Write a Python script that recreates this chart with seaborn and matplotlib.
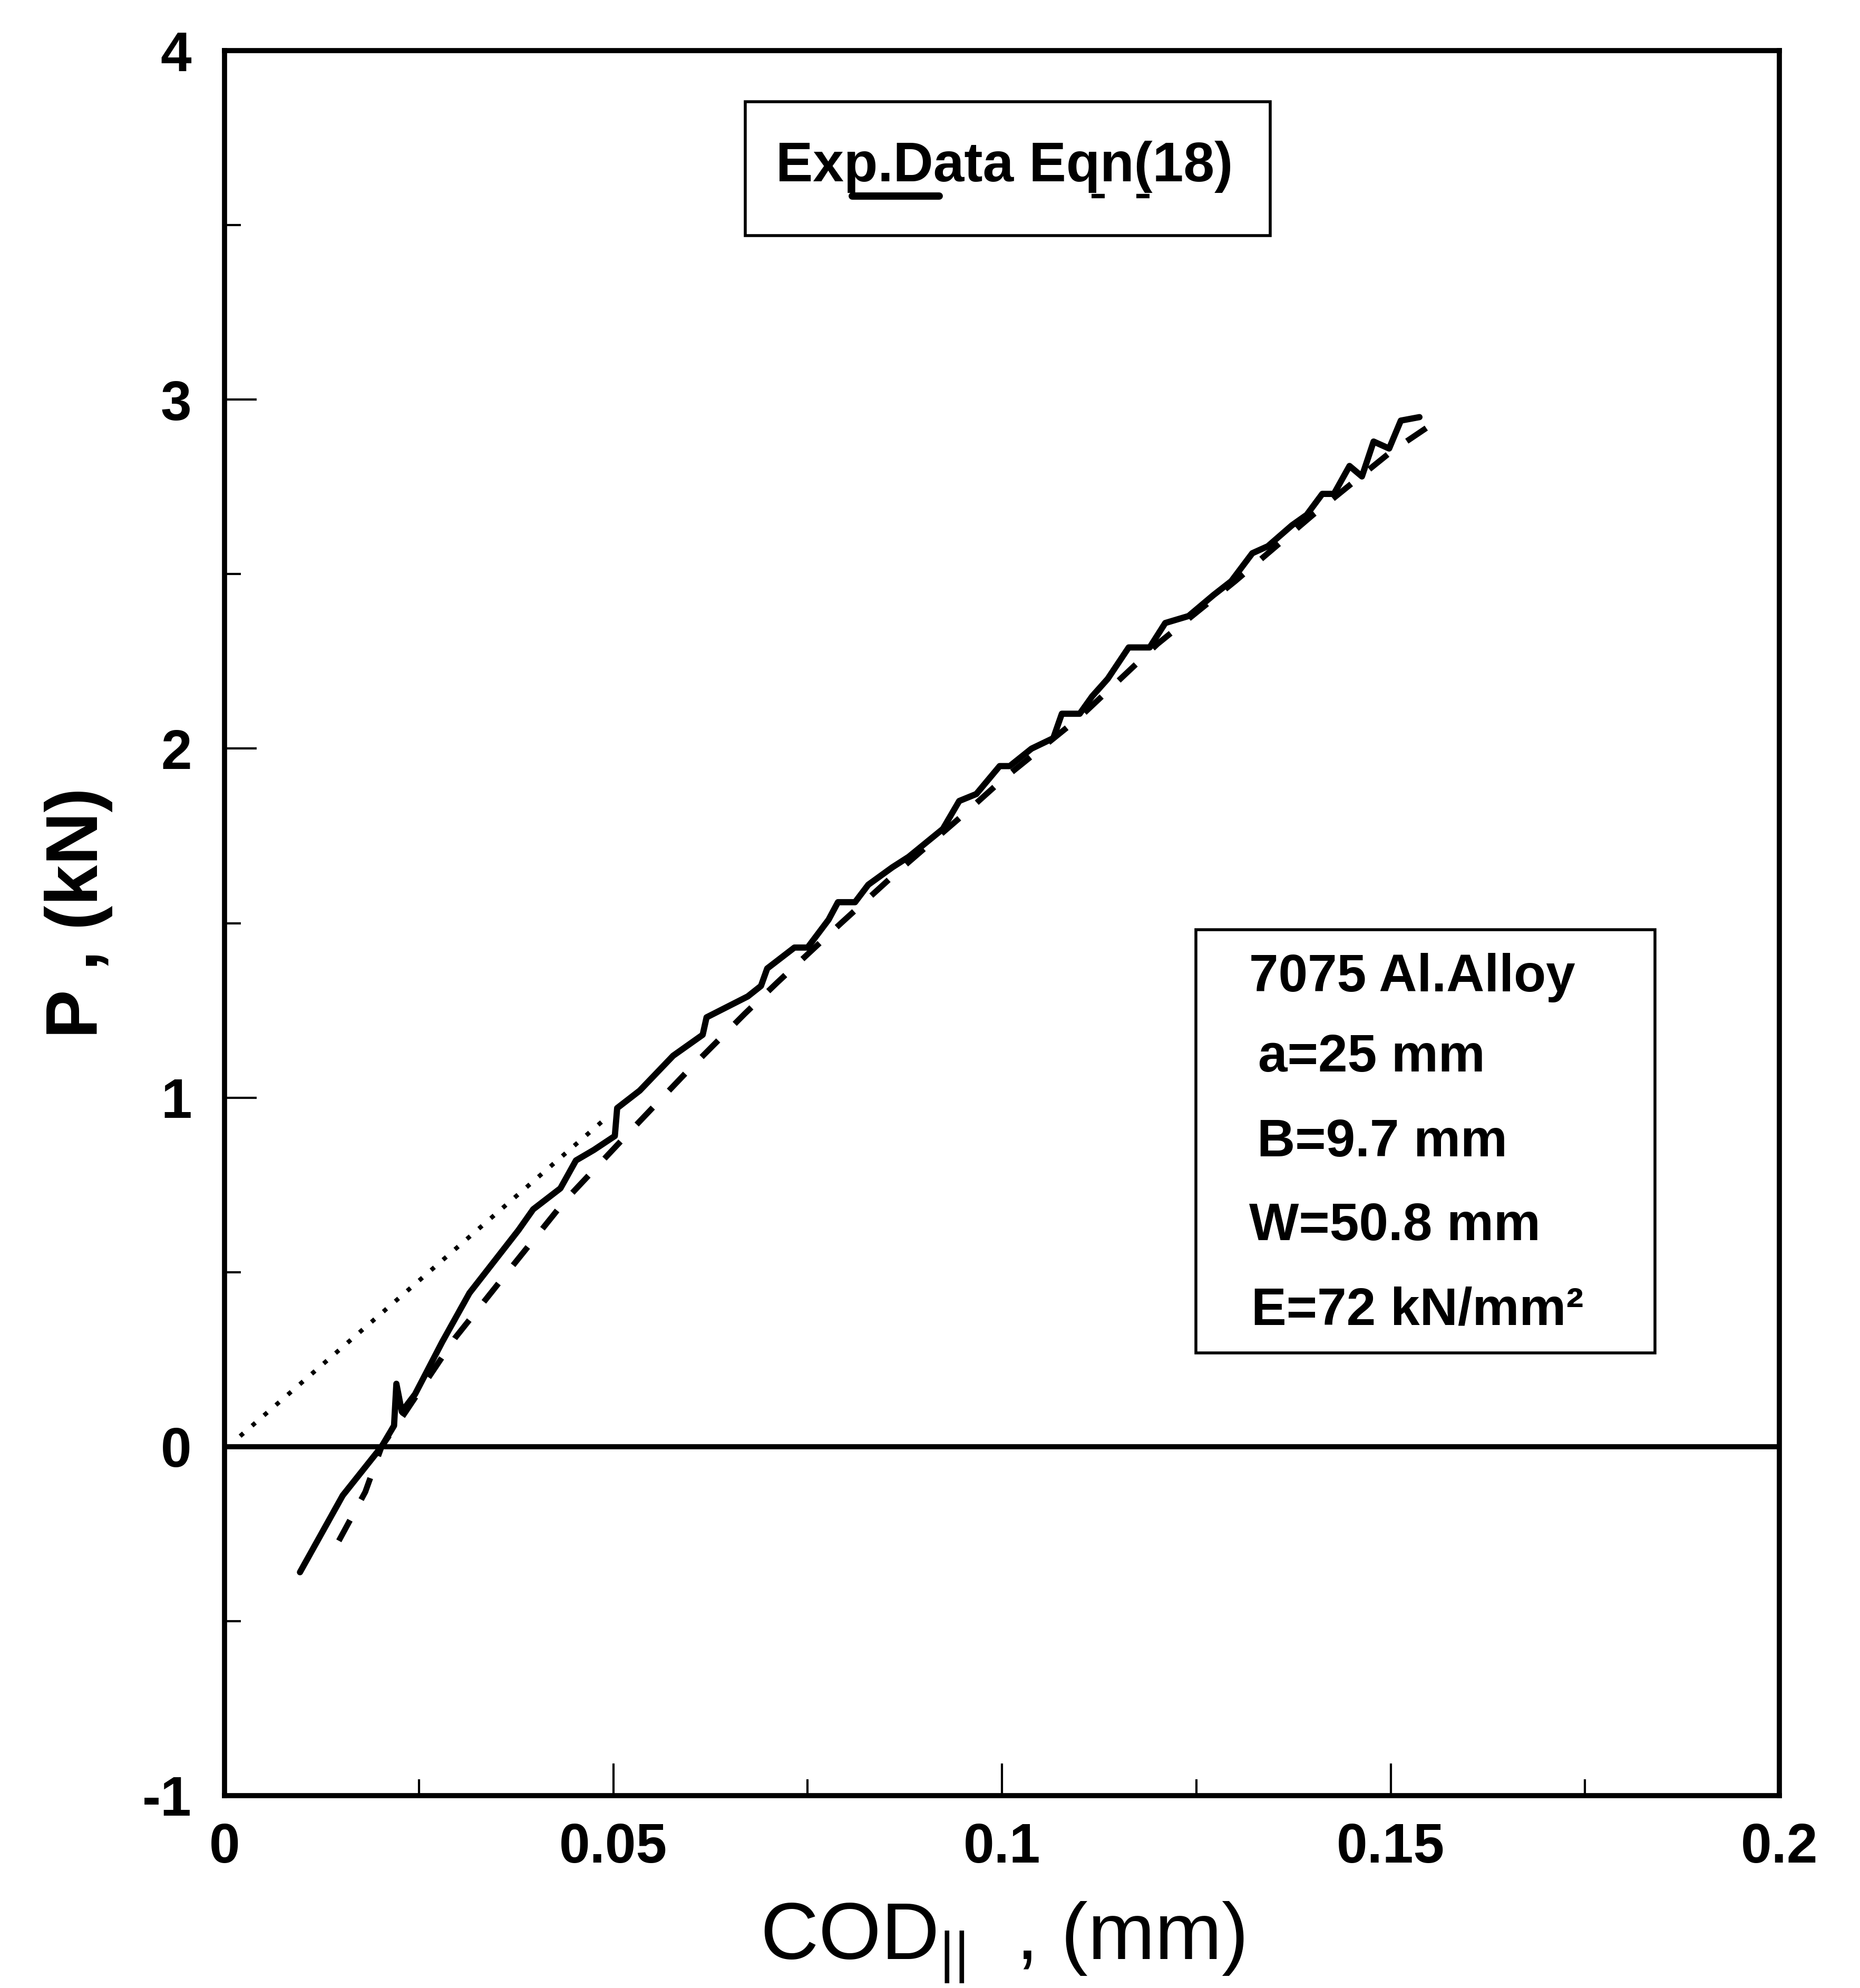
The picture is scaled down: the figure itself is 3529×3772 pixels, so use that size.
import numpy as np
import pandas as pd
import matplotlib
matplotlib.use("Agg")
import matplotlib.pyplot as plt
import seaborn as sns
from matplotlib.patches import Rectangle
from matplotlib.ticker import MultipleLocator, FuncFormatter

# ===================== 数据 =====================
# 实验数据（实线）
cod_exp = [0.0097, 0.0152, 0.0202, 0.0218, 0.0221, 0.0228, 0.0245, 0.0280, 0.0315,
           0.0343, 0.0378, 0.0397, 0.0432, 0.0452, 0.0475, 0.0502, 0.0505, 0.0534,
           0.0577, 0.0615, 0.0620, 0.0673, 0.0690, 0.0698, 0.0733, 0.0750, 0.0777,
           0.0789, 0.0811, 0.0828, 0.0859, 0.0880, 0.0924, 0.0945, 0.0967, 0.0997,
           0.1010, 0.1038, 0.1066, 0.1077, 0.1100, 0.1116, 0.1136, 0.1163, 0.1190,
           0.1210, 0.1240, 0.1272, 0.1295, 0.1322, 0.1342, 0.1373, 0.1392, 0.1412,
           0.1427, 0.1447, 0.1463, 0.1478, 0.1498, 0.1513, 0.1537]
p_exp = [-0.36, -0.14, 0.00, 0.06, 0.18, 0.10, 0.15, 0.30, 0.44,
         0.52, 0.62, 0.68, 0.74, 0.82, 0.85, 0.89, 0.97, 1.02,
         1.12, 1.18, 1.23, 1.29, 1.32, 1.37, 1.43, 1.43, 1.51,
         1.56, 1.56, 1.61, 1.66, 1.69, 1.77, 1.85, 1.87, 1.95,
         1.95, 2.00, 2.03, 2.10, 2.10, 2.15, 2.20, 2.29, 2.29,
         2.36, 2.38, 2.44, 2.48, 2.56, 2.58, 2.64, 2.67, 2.73,
         2.73, 2.81, 2.78, 2.88, 2.86, 2.94, 2.95]

# 公式(18)（虚线）
cod_eqn = [0.0147, 0.0181, 0.0202, 0.0233, 0.0296, 0.0364, 0.0438, 0.0516, 0.0593,
           0.0669, 0.0711, 0.0793, 0.0867, 0.0950, 0.1000, 0.1100, 0.1200, 0.1300,
           0.1400, 0.1500, 0.1560]
p_eqn = [-0.27, -0.13, 0.00, 0.10, 0.31, 0.50, 0.705, 0.89, 1.07,
         1.24, 1.33, 1.50, 1.65, 1.81, 1.91, 2.09, 2.30, 2.48,
         2.67, 2.85, 2.94]

# 初始线性段（点线）
cod_lin = [0.002, 0.049]
p_lin = [0.03, 0.94]

legend_label = "Exp.Data Eqn(18)"
info_lines = ["7075 Al.Alloy", "a=25 mm", "B=9.7 mm", "W=50.8 mm", "E=72 kN/mm²"]

# ===================== 绘图设置 =====================
sns.set_theme(style="white")
plt.rcParams['font.family'] = ['Liberation Sans', 'DejaVu Sans']
plt.rcParams['axes.unicode_minus'] = False
plt.rcParams['mathtext.default'] = 'regular'
for k in ['text.color', 'axes.labelcolor', 'xtick.color', 'ytick.color', 'axes.edgecolor']:
    plt.rcParams[k] = 'black'

fig = plt.figure(figsize=(35.3, 37.72), dpi=100)
ax = fig.add_axes([0.1207, 0.0968, 0.8357, 0.8777])

df_exp = pd.DataFrame({"cod": cod_exp, "p": p_exp})
df_eqn = pd.DataFrame({"cod": cod_eqn, "p": p_eqn})
df_lin = pd.DataFrame({"cod": cod_lin, "p": p_lin})

sns.lineplot(data=df_exp, x="cod", y="p", ax=ax, sort=False, estimator=None,
             color="black", lw=8.5, solid_joinstyle="round")
sns.lineplot(data=df_eqn, x="cod", y="p", ax=ax, sort=False, estimator=None,
             color="black", lw=8, linestyle=(0, (4, 4)))
sns.lineplot(data=df_lin, x="cod", y="p", ax=ax, sort=False, estimator=None,
             color="black", lw=6, linestyle=(0, (1, 2.6)))

# P = 0 基线
ax.axhline(0, color="black", lw=7)

ax.set_xlim(0, 0.2)
ax.set_ylim(-1, 4)
ax.xaxis.set_major_locator(MultipleLocator(0.05))
ax.xaxis.set_minor_locator(MultipleLocator(0.025))
ax.yaxis.set_major_locator(MultipleLocator(1))
ax.yaxis.set_minor_locator(MultipleLocator(0.5))
fmt = FuncFormatter(lambda v, pos: f"{v:g}")
ax.xaxis.set_major_formatter(fmt)
ax.yaxis.set_major_formatter(fmt)

ax.tick_params(which="both", direction="in", top=False, right=False,
               bottom=True, left=True, color="black", width=3)
ax.tick_params(which="major", length=44)
ax.tick_params(which="minor", length=22)
ax.tick_params(axis="x", which="major", pad=36, labelsize=76)
ax.tick_params(axis="y", which="major", pad=45, labelsize=76)
for lab in ax.get_xticklabels() + ax.get_yticklabels():
    lab.set_fontweight("bold")

for sp in ax.spines.values():
    sp.set_linewidth(7)
    sp.set_color("black")

ax.set_xlabel(r"COD$_{||}$  , (mm)", fontsize=110)
ax.xaxis.set_label_coords(0.5, -0.06)
ax.set_ylabel("P , (kN)", fontsize=100, fontweight="bold")
ax.yaxis.set_label_coords(-0.072, 0.506)

# 图例框
ax.add_patch(Rectangle((0.335, 0.894), 0.3375, 0.0767, transform=ax.transAxes,
                       fill=False, lw=4, ec="black"))
ax.text(0.3546, 0.925, legend_label, transform=ax.transAxes, ha="left",
        va="baseline", fontsize=76, fontweight="bold")
ax.plot([0.4037, 0.4597], [0.9166, 0.9166], transform=ax.transAxes,
        color="black", lw=10, solid_capstyle="round")
ax.plot([0.5576, 0.5949], [0.9166, 0.9166], transform=ax.transAxes,
        color="black", lw=6, linestyle=(0, (3, 7.2)))

# 材料参数框
ax.add_patch(Rectangle((0.6247, 0.2537), 0.2953, 0.2425, transform=ax.transAxes,
                       fill=False, lw=4, ec="black"))
info_y = [0.4609, 0.4150, 0.3664, 0.3183, 0.2697]
info_x = [0.659, 0.6647, 0.664, 0.659, 0.6603]
for tx, ty, s in zip(info_x, info_y, info_lines):
    ax.text(tx, ty, s, transform=ax.transAxes, ha="left", va="baseline",
            fontsize=72, fontweight="bold")

fig.savefig("out.png", dpi=100, facecolor="white")
